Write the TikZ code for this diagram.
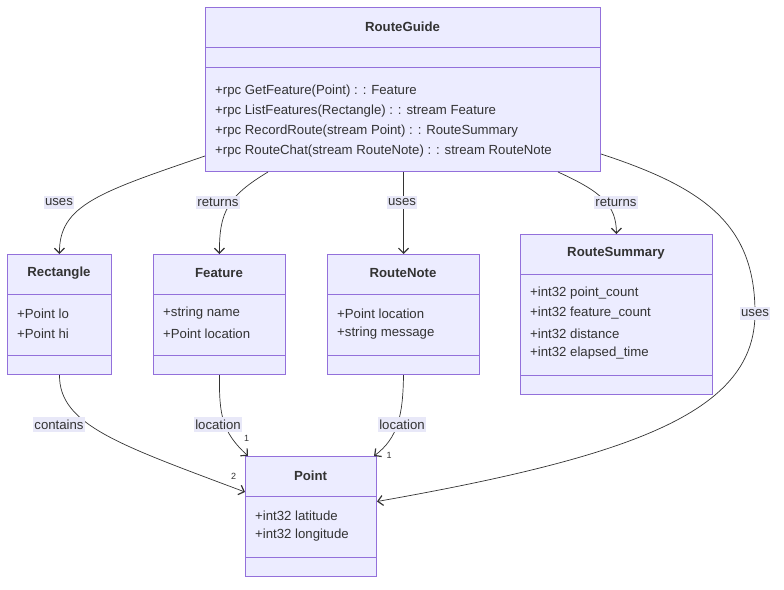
\documentclass[tikz,border=0pt]{standalone}
\usepackage{fontspec}
\setmainfont{Liberation Sans}
\usetikzlibrary{arrows.meta}
\definecolor{clsfill}{HTML}{ECECFF}
\definecolor{clsline}{HTML}{9370DB}
\definecolor{txt}{HTML}{333333}
\definecolor{lblbg}{HTML}{E8E8F8}
\tikzset{
  cls/.style={draw=clsline,fill=clsfill,line width=1pt,anchor=north west,inner sep=0pt},
  divl/.style={draw=clsline,line width=1pt},
  ttl/.style={text=txt,font=\fontsize{13.2}{16}\selectfont\bfseries,inner sep=0pt},
  attr/.style={text=txt,font=\fontsize{13.2}{16}\selectfont,anchor=west,inner sep=0pt},
  edge/.style={draw=txt,line width=0.7pt,-{Straight Barb[length=5pt,width=10pt,line width=1.2pt]}},
  lbl/.style={fill=lblbg,text=txt,font=\fontsize{13.2}{16}\selectfont,inner xsep=1pt,inner ysep=2.5pt},
  mult/.style={text=txt,font=\fontsize{9}{10}\selectfont,inner sep=0pt}
}
\begin{document}
\begin{tikzpicture}[x=1pt,y=-1pt]
\useasboundingbox (0,0) rectangle (784,589);
% class boxes
\node[cls,minimum width=395pt,minimum height=164pt] (rg) at (205,7) {};
\node[cls,minimum width=104pt,minimum height=120pt] (rect) at (7,254) {};
\node[cls,minimum width=132pt,minimum height=120pt] (feat) at (153,254) {};
\node[cls,minimum width=152pt,minimum height=120pt] (note) at (327,254) {};
\node[cls,minimum width=192pt,minimum height=160pt] (sum) at (520,234) {};
\node[cls,minimum width=131pt,minimum height=120pt] (pt) at (245,456) {};
% dividers
\draw[divl] ([yshift=-40pt]rg.north west) -- ([yshift=-40pt]rg.north east);
\draw[divl] ([yshift=-60pt]rg.north west) -- ([yshift=-60pt]rg.north east);
\draw[divl] ([yshift=-40pt]rect.north west) -- ([yshift=-40pt]rect.north east);
\draw[divl] ([yshift=20pt]rect.south west) -- ([yshift=20pt]rect.south east);
\draw[divl] ([yshift=-40pt]feat.north west) -- ([yshift=-40pt]feat.north east);
\draw[divl] ([yshift=20pt]feat.south west) -- ([yshift=20pt]feat.south east);
\draw[divl] ([yshift=-40pt]note.north west) -- ([yshift=-40pt]note.north east);
\draw[divl] ([yshift=20pt]note.south west) -- ([yshift=20pt]note.south east);
\draw[divl] ([yshift=-40pt]sum.north west) -- ([yshift=-40pt]sum.north east);
\draw[divl] ([yshift=20pt]sum.south west) -- ([yshift=20pt]sum.south east);
\draw[divl] ([yshift=-40pt]pt.north west) -- ([yshift=-40pt]pt.north east);
\draw[divl] ([yshift=20pt]pt.south west) -- ([yshift=20pt]pt.south east);
% texts
\node[ttl] (rgt) at (402.5,26.5) {RouteGuide};
\node[attr] (rgm1) at (215,91.5) {+rpc GetFeature(Point) : : Feature};
\node[attr] (rgm2) at (215,111.5) {+rpc ListFeatures(Rectangle) : : stream Feature};
\node[attr] (rgm3) at (215,131.5) {+rpc RecordRoute(stream Point) : : RouteSummary};
\node[attr] (rgm4) at (215,151.5) {+rpc RouteChat(stream RouteNote) : : stream RouteNote};
\node[ttl] (rectt) at (59,273.5) {Rectangle};
\node[attr] (recta1) at (17,313.5) {+Point lo};
\node[attr] (recta2) at (17,333.5) {+Point hi};
\node[ttl] (featt) at (219,273.5) {Feature};
\node[attr] (feata1) at (163,313.5) {+string name};
\node[attr] (feata2) at (163,333.5) {+Point location};
\node[ttl] (notet) at (403,273.5) {RouteNote};
\node[attr] (notea1) at (337,313.5) {+Point location};
\node[attr] (notea2) at (337,333.5) {+string message};
\node[ttl] (sumt) at (616,253.5) {RouteSummary};
\node[attr] (suma1) at (530,293.5) {+int32 point\_count};
\node[attr] (suma2) at (530,313.5) {+int32 feature\_count};
\node[attr] (suma3) at (530,333.5) {+int32 distance};
\node[attr] (suma4) at (530,353.5) {+int32 elapsed\_time};
\node[ttl] (ptt) at (310.5,475.5) {Point};
\node[attr] (pta1) at (255,515.5) {+int32 latitude};
\node[attr] (pta2) at (255,535.5) {+int32 longitude};
% edges
\draw[edge] ([yshift=16pt]rg.south west) .. controls (100,192) and (59,205) .. (rect.north);
\draw[edge] ([xshift=63pt]rg.south west) .. controls (228,196) and (219,212) .. (feat.north);
\draw[edge] (rg.south -| note.north) -- (note.north);
\draw[edge] ([xshift=353pt]rg.south west) .. controls (602,192) and (616,205) .. (sum.north);
\draw[edge] ([yshift=18pt]rg.south east) .. controls (705,188) and (755,225) .. (755,313)
  .. controls (755,410) and (640,455) .. ([yshift=15pt]pt.east);
\draw[edge] (rect.south) .. controls (59,425) and (120,445) .. ([yshift=-36pt]pt.north west);
\draw[edge] (feat.south) .. controls (219,415) and (222,432) .. ([xshift=3pt]pt.north west);
\draw[edge] (note.south) .. controls (403,415) and (398,438) .. ([xshift=-3pt]pt.north east);
% edge labels
\node[lbl] (l1) at (59,202.5) {uses};
\node[lbl] (l2) at (218,202.5) {returns};
\node[lbl] (l3) at (402,202.5) {uses};
\node[lbl] (l4) at (616,202.5) {returns};
\node[lbl] (l5) at (755,313.5) {uses};
\node[lbl] (l6) at (59,424.5) {contains};
\node[lbl] (l7) at (218,424.5) {location};
\node[lbl] (l8) at (402,424.5) {location};
% multiplicities
\node[mult] (m1) at (233.5,476) {2};
\node[mult] (m2) at (246.5,438) {1};
\node[mult] (m3) at (389,455) {1};
\end{tikzpicture}
\end{document}
